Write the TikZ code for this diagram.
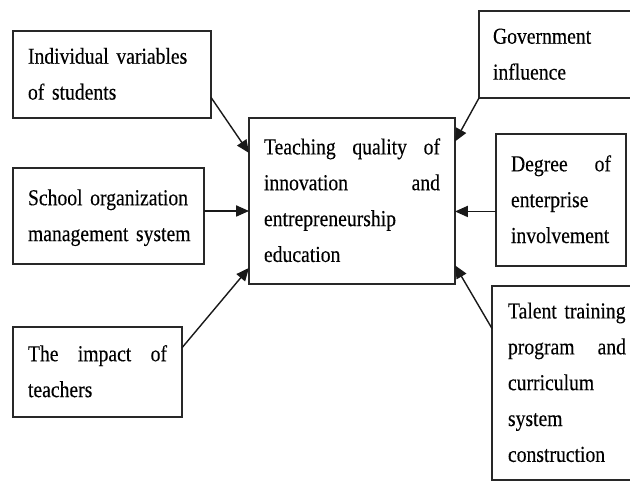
\documentclass[tikz,border=0pt]{standalone}
\usepackage{fontspec}
\setmainfont{Liberation Serif}[FakeStretch=0.86, WordSpace=0.7, FakeBold=0.25]
\usepackage{tikz}
\usetikzlibrary{arrows.meta}
\definecolor{mydark}{RGB}{25,25,25}
\definecolor{myframe}{RGB}{40,40,40}
\newdimen\px
\px=0.03cm
\tikzset{
  factor/.style={rectangle, draw=myframe, line width=1.1pt, fill=white,
    align=left, inner xsep=15\px, inner ysep=3pt, outer sep=0pt,
    font=\fontsize{19.5}{30.6}\selectfont,
    execute at begin node=\strut, execute at end node=\strut},
  arrow/.style={-{Triangle[length=11pt, width=9.5pt]}, line width=1.2pt, color=mydark}
}

\begin{document}
\begin{tikzpicture}[x=\px, y=-\px]
  \useasboundingbox (0,0) rectangle (630,483);
  \clip (0,0) rectangle (630,483);

  % Factors on the left
  \node[factor, minimum width=198\px, minimum height=87\px, text width=168\px] (ind) at (112,74.5)
    {Individual~variables\\of~students};
  \node[factor, minimum width=191\px, minimum height=96\px, text width=161\px] (sch) at (108.5,216)
    {School~organization\\management~system};
  \node[factor, minimum width=169\px, minimum height=90\px, text width=139\px] (tea) at (97.5,372)
    {The\hfill impact\hfill of\\teachers};

  % Central box
  \node[factor, minimum width=206\px, minimum height=166\px, text width=176\px] (cen) at (352,201)
    {Teaching\hfill quality\hfill of\\innovation\hfill and\\entrepreneurship\\education};

  % Factors on the right
  \node[factor, minimum width=166\px, minimum height=87\px, text width=138\px, inner xsep=14\px] (gov) at (562,54.5)
    {Government\\influence};
  \node[factor, minimum width=130\px, minimum height=132\px, text width=100\px] (ent) at (561,200)
    {Degree\hfill of\\enterprise\\involvement};
  \node[factor, minimum width=150\px, minimum height=194\px, text width=118\px, inner xsep=16\px] (tal) at (567,383)
    {Talent~training\\program\hfill and\\curriculum\\system\\construction};

  % Connections
  \draw[arrow] (ind.-13) -- (cen.155);
  \draw[arrow] (sch.3) -- (sch.3 -| cen.west);
  \draw[arrow] (tea.16) -- (cen.213);
  \draw[arrow] (gov.south west) -- (cen.30);
  \draw[arrow] (ent.190) -- (ent.190 -| cen.east);
  \draw[arrow] (tal.144) -- (cen.-32);
\end{tikzpicture}
\end{document}
